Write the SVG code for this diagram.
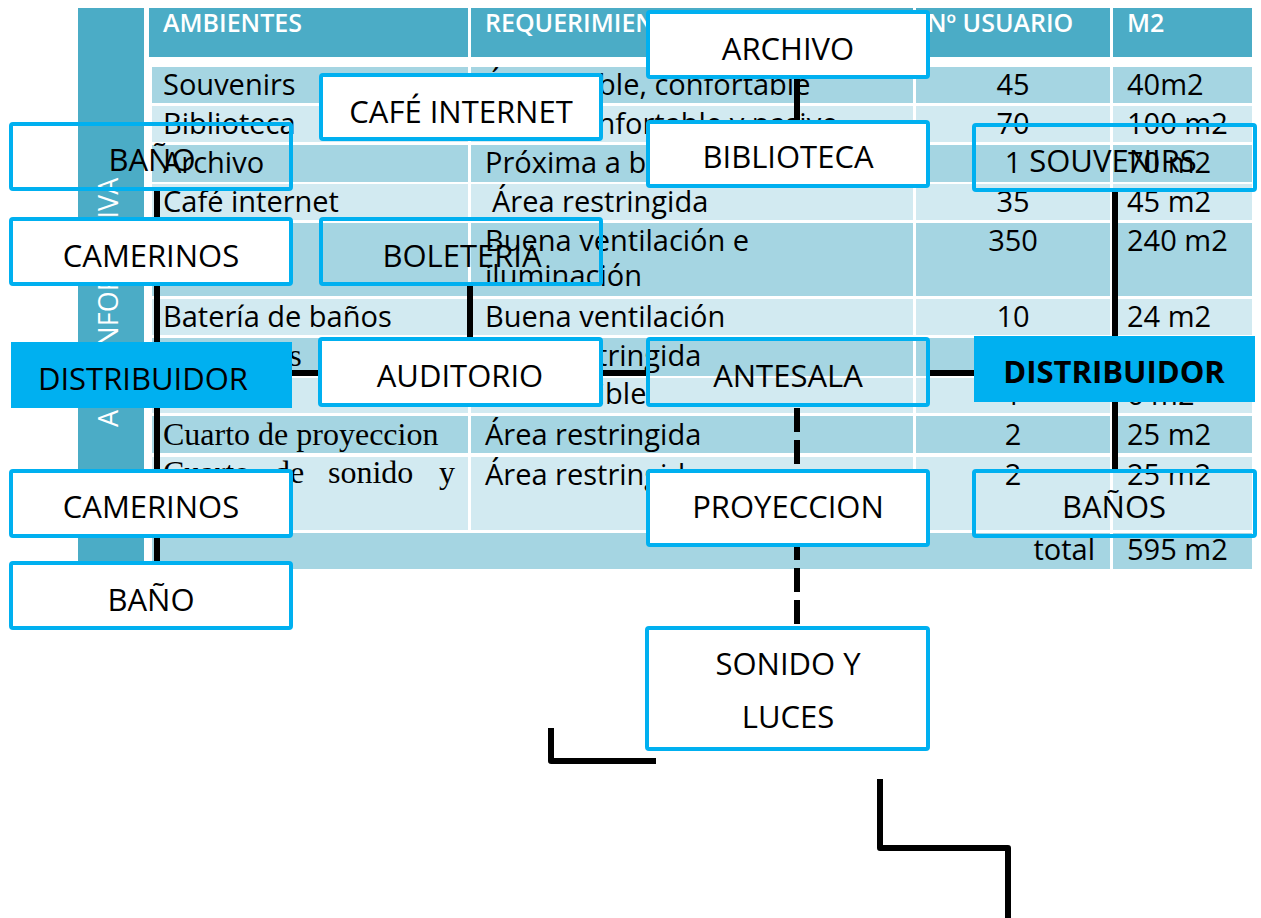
<svg xmlns="http://www.w3.org/2000/svg" width="1261" height="918" viewBox="0 0 1261 918">
<style>
.band{fill:#4BACC6}
.dk{fill:#A5D5E2}
.lt{fill:#D2EAF1}
.sep{fill:#FFFFFF}
.h{font-family:"Open Sans",sans-serif;font-size:25px;font-weight:600;fill:#FFFFFF}
.v{font-family:"Open Sans",sans-serif;font-size:27px;fill:#FFFFFF}
.b{font-family:"Open Sans",sans-serif;font-size:29px;fill:#000}
.n{font-family:"Open Sans",sans-serif;font-size:29px;fill:#000;text-anchor:middle}
.s{font-family:"Liberation Serif",serif;font-size:32px;fill:#000}
.node rect{fill:#FFFFFF;stroke:#00B0F0;stroke-width:4}
.node.clear rect{fill:none}
.node.fill rect{fill:#00B0F0;stroke:none}
.lbl{font-family:"Open Sans",sans-serif;font-size:31px;fill:#000;text-anchor:middle}
.bold{font-weight:bold}
.conn{stroke:#000;stroke-width:6;fill:none;stroke-linejoin:round}
.dash{stroke-dasharray:24 8}
</style>

<g id="table">
  <rect class="band" x="78" y="8" width="66" height="561"/>
  <text class="v" transform="translate(118,427) rotate(-90)">AREA INFORMATIVA</text>
  <rect class="band" x="149" y="8" width="1103" height="49"/>
  <rect class="dk" x="152" y="67" width="1100" height="36"/>
  <rect class="lt" x="152" y="106" width="1100" height="36"/>
  <rect class="dk" x="152" y="145" width="1100" height="37"/>
  <rect class="lt" x="152" y="184" width="1100" height="36"/>
  <rect class="dk" x="152" y="223" width="1100" height="73"/>
  <rect class="lt" x="152" y="299" width="1100" height="36"/>
  <rect class="dk" x="152" y="338" width="1100" height="38"/>
  <rect class="lt" x="152" y="378" width="1100" height="35"/>
  <rect class="dk" x="152" y="416" width="1100" height="37"/>
  <rect class="lt" x="152" y="457" width="1100" height="73"/>
  <rect class="dk" x="152" y="533" width="1100" height="36"/>
  <rect class="sep" x="468" y="8" width="3" height="522"/>
  <rect class="sep" x="913" y="8" width="3" height="522"/>
  <rect class="sep" x="1110" y="8" width="3" height="561"/>

  <text class="h" x="163" y="32">AMBIENTES</text>
  <text class="h" x="485" y="32">REQUERIMIENTOS</text>
  <text class="h" x="927" y="32">Nº USUARIO</text>
  <text class="h" x="1127" y="32">M2</text>

  <text class="b" x="163" y="95">Souvenirs</text>
  <text class="b" x="485" y="95">Área visible, confortable</text>
  <text class="n" x="1013" y="95">45</text>
  <text class="b" x="1127" y="95">40m2</text>

  <text class="b" x="163" y="134">Biblioteca</text>
  <text class="b" x="496" y="134">Área confortable y pasivo</text>
  <text class="n" x="1013" y="134">70</text>
  <text class="b" x="1127" y="134">100 m2</text>

  <text class="b" x="163" y="173">Archivo</text>
  <text class="b" x="485" y="173">Próxima a biblioteca</text>
  <text class="n" x="1013" y="173">1</text>
  <text class="b" x="1127" y="173">70 m2</text>

  <text class="b" x="163" y="212">Café internet</text>
  <text class="b" x="492" y="212">Área restringida</text>
  <text class="n" x="1013" y="212">35</text>
  <text class="b" x="1127" y="212">45 m2</text>

  <text class="b" x="163" y="251">Auditorio</text>
  <text class="b" x="485" y="251">Buena ventilación e</text>
  <text class="b" x="485" y="286">iluminación</text>
  <text class="n" x="1013" y="251">350</text>
  <text class="b" x="1127" y="251">240 m2</text>

  <text class="b" x="163" y="327">Batería de baños</text>
  <text class="b" x="485" y="327">Buena ventilación</text>
  <text class="n" x="1013" y="327">10</text>
  <text class="b" x="1127" y="327">24 m2</text>

  <text class="s" x="163" y="366">Camerinos</text>
  <text class="b" x="485" y="366">Área restringida</text>

  <text class="b" x="492" y="404">Área visible</text>
  <text class="n" x="1013" y="405">1</text>
  <text class="b" x="1127" y="405">6 m2</text>

  <text class="s" x="163" y="445">Cuarto de proyeccion</text>
  <text class="b" x="485" y="445">Área restringida</text>
  <text class="n" x="1013" y="445">2</text>
  <text class="b" x="1127" y="445">25 m2</text>

  <text class="s" x="163" y="483">Cuarto</text>
  <text class="s" x="274" y="483">de</text>
  <text class="s" x="328" y="483">sonido</text>
  <text class="s" x="439" y="483">y</text>
  <text class="b" x="485" y="485">Área restringida</text>
  <text class="n" x="1013" y="485">2</text>
  <text class="b" x="1127" y="485">25 m2</text>

  <text class="b" x="1095" y="560" text-anchor="end">total</text>
  <text class="b" x="1127" y="560">595 m2</text>
</g>

<g id="connectors">
  <path class="conn" d="M797,78 V121"/>
  <path class="conn" d="M157,190 V562"/>
  <path class="conn" d="M470,286 V338"/>
  <path class="conn" d="M292,373 H320"/>
  <path class="conn" d="M603,373 H647"/>
  <path class="conn" d="M930,373 H974"/>
  <path class="conn" d="M1115,191 V336"/>
  <path class="conn" d="M1115,402 V470"/>
  <path class="conn dash" d="M797,408 V628"/>
  <path class="conn" d="M551,728 V761 H656"/>
  <path class="conn" d="M880,779 V848 H1008 V918"/>
</g>

<g id="node-archivo" class="node"><rect x="648" y="12" width="280" height="65" rx="2"/><text class="lbl" x="788" y="60">ARCHIVO</text></g>
<g id="node-cafe-internet" class="node"><rect x="321" y="75" width="280" height="64" rx="2"/><text class="lbl" x="461" y="123">CAFÉ INTERNET</text></g>
<g id="node-bano-top" class="node clear"><rect x="11" y="124" width="280" height="65" rx="2"/><text class="lbl" x="152" y="171">BAÑO</text></g>
<g id="node-biblioteca" class="node"><rect x="648" y="122" width="280" height="64" rx="2"/><text class="lbl" x="788" y="168">BIBLIOTECA</text></g>
<g id="node-souvenirs" class="node clear"><rect x="974" y="125" width="281" height="65" rx="2"/><text class="lbl" x="1113" y="172">SOUVENIRS</text></g>
<g id="node-camerinos-top" class="node"><rect x="11" y="219" width="280" height="65" rx="2"/><text class="lbl" x="151" y="267">CAMERINOS</text></g>
<g id="node-boleteria" class="node clear"><rect x="321" y="219" width="280" height="65" rx="2"/><text class="lbl" x="462" y="267">BOLETERIA</text></g>
<g id="node-distribuidor-left" class="node fill"><rect x="11" y="342" width="281" height="66"/><text class="lbl" x="143" y="390">DISTRIBUIDOR</text></g>
<g id="node-auditorio" class="node"><rect x="320" y="339" width="281" height="66" rx="2"/><text class="lbl" x="460" y="387">AUDITORIO</text></g>
<g id="node-antesala" class="node clear"><rect x="648" y="339" width="280" height="66" rx="2"/><text class="lbl" x="788" y="387">ANTESALA</text></g>
<g id="node-distribuidor-right" class="node fill"><rect x="974" y="336" width="281" height="66"/><text class="lbl bold" x="1114" y="383">DISTRIBUIDOR</text></g>
<g id="node-camerinos-bottom" class="node"><rect x="11" y="471" width="280" height="65" rx="2"/><text class="lbl" x="151" y="518">CAMERINOS</text></g>
<g id="node-proyeccion" class="node"><rect x="648" y="471" width="280" height="74" rx="2"/><text class="lbl" x="788" y="518">PROYECCION</text></g>
<g id="node-banos" class="node clear"><rect x="974" y="471" width="281" height="65" rx="2"/><text class="lbl" x="1114" y="518">BAÑOS</text></g>
<g id="node-bano-bottom" class="node"><rect x="11" y="563" width="280" height="65" rx="2"/><text class="lbl" x="151" y="611">BAÑO</text></g>
<g id="node-sonido-luces" class="node"><rect x="647" y="628" width="281" height="121" rx="2"/><text class="lbl" x="788" y="675">SONIDO Y</text><text class="lbl" x="788" y="728">LUCES</text></g>
</svg>
